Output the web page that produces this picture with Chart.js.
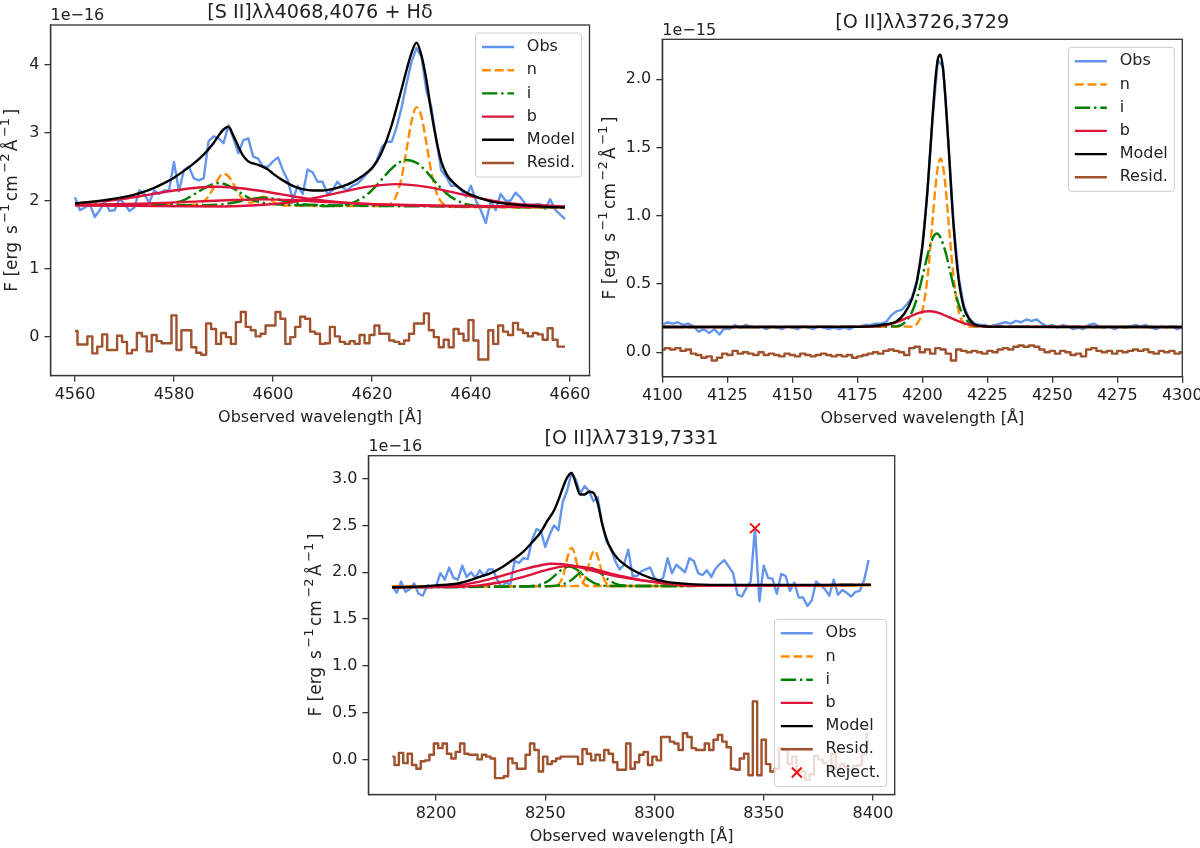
<!DOCTYPE html>
<html>
<head>
<meta charset="utf-8">
<script src="https://cdn.jsdelivr.net/npm/chart.js@4.4.1/dist/chart.umd.min.js"></script>
<style>
  html,body{margin:0;padding:0;background:#ffffff;}
  body{width:1200px;height:848px;position:relative;overflow:hidden;}
  canvas{position:absolute;left:0;top:0;width:1200px;height:848px;}
</style>
</head>
<body>
<canvas id="c1" width="1200" height="848"></canvas>
<canvas id="c2" width="1200" height="848"></canvas>
<canvas id="c3" width="1200" height="848"></canvas>
<script>
// ---------------- DATA ----------------
const p1Title = '[S II]λλ4068,4076 + Hδ';
const p2Title = '[O II]λλ3726,3729';
const p3Title = '[O II]λλ7319,7331';
const p1Offset = '1e\u221216';
const p2Offset = '1e\u221215';
const p3Offset = '1e\u221216';
const xLabel = 'Observed wavelength [Å]';
// y label pieces: [text, isSuperscript]
const yLabelParts = [['F [erg', 0], [' s', 0], ['\u22121', 1], ['cm', 0], ['\u22122', 1], ['Å', 0], ['\u22121', 1], [']', 0]];

const p1XTicks = [4560, 4580, 4600, 4620, 4640, 4660];
const p1YTicks = [0, 1, 2, 3, 4];
const p2XTicks = [4100, 4125, 4150, 4175, 4200, 4225, 4250, 4275, 4300];
const p2YTicks = [0, 0.5, 1, 1.5, 2];
const p3XTicks = [8200, 8250, 8300, 8350, 8400];
const p3YTicks = [0, 0.5, 1, 1.5, 2, 2.5, 3];

// Panel 1 (units 1e-16)
const p1Wave = [4560,4561,4562,4563,4564,4565,4566,4567,4568,4569,4570,4571,4572,4573,4574,4575,4576,4577,4578,4579,
4580,4581,4582,4583,4584,4585,4586,4587,4588,4589,4590,4591,4592,4593,4594,4595,4596,4597,4598,4599,
4600,4601,4602,4603,4604,4605,4606,4607,4608,4609,4610,4611,4612,4613,4614,4615,4616,4617,4618,4619,
4620,4621,4622,4623,4624,4625,4626,4627,4628,4629,4630,4631,4632,4633,4634,4635,4636,4637,4638,4639,
4640,4641,4642,4643,4644,4645,4646,4647,4648,4649,4650,4651,4652,4653,4654,4655,4656,4657,4658,4659];
const p1Obs = [2.05,1.86,1.90,1.95,1.76,1.86,1.99,1.85,1.86,2.03,
1.95,1.85,1.90,2.15,2.10,1.97,2.15,2.10,2.15,2.15,
2.57,2.14,2.45,2.50,2.33,2.30,2.33,2.88,2.95,2.92,
2.85,3.11,2.92,2.70,2.89,2.92,2.65,2.62,2.50,2.50,
2.58,2.64,2.45,2.30,2.02,2.22,2.10,2.46,2.42,2.28,
2.28,2.10,2.15,2.28,2.20,2.15,2.22,2.25,2.32,2.40,
2.48,2.60,2.79,2.87,2.87,3.09,3.38,3.73,4.05,4.25,
4.12,3.62,3.38,2.89,2.45,2.35,2.22,2.22,2.16,2.06,
2.22,2.00,1.86,1.67,2.00,1.86,2.10,2.00,2.00,2.12,
2.05,1.95,1.90,1.95,1.95,1.88,2.02,1.87,1.80,1.73];
const p1Resid = [0.08,-0.12,-0.12,0.00,-0.25,-0.15,0.03,-0.20,-0.20,0.01,
-0.08,-0.25,-0.20,0.05,0.00,-0.22,0.02,-0.07,-0.10,-0.10,
0.31,-0.20,0.09,0.09,-0.16,-0.24,-0.27,0.19,0.11,-0.11,
0.05,-0.01,-0.11,0.21,0.36,0.14,0.09,0.00,0.04,0.16,
0.16,0.36,0.26,-0.11,-0.01,0.14,0.29,0.26,0.07,0.04,
-0.11,-0.10,0.14,0.00,-0.08,-0.11,-0.07,-0.11,0.02,-0.10,
0.02,0.16,0.04,0.04,-0.06,-0.08,-0.11,-0.06,0.04,0.19,
0.19,0.34,0.09,-0.01,-0.16,-0.05,-0.16,0.11,0.04,-0.06,
0.24,-0.06,-0.34,-0.34,0.09,-0.11,0.16,0.07,0.02,0.20,
0.10,0.05,0.00,0.05,0.03,-0.05,0.12,-0.05,-0.15,-0.15];
const p1NX = [4560,4584,4585,4586,4587,4588,4589,4590,4591,4592,4593,4594,4595,4596,4597,4598,4599,4600,4601,4602,
4622,4623,4624,4625,4626,4627,4628,4629,4630,4631,4632,4633,4634,4635,4636,4659];
const p1NY = [1.94,1.94,1.96,1.99,2.07,2.19,2.33,2.40,2.36,2.25,2.11,2.02,1.97,1.98,2.03,2.06,2.04,1.99,1.95,1.93,
1.92,1.92,1.97,2.09,2.35,2.76,3.17,3.38,3.24,2.85,2.42,2.13,1.98,1.93,1.91,1.90];
const p1IaX = [4560,4576,4578,4580,4582,4584,4586,4588,4589,4590,4592,4594,4596,4598,4600,4603,4608,4612,4615,4617,
4619,4621,4623,4625,4627,4629,4631,4633,4635,4637,4639,4642,4645,4659];
const p1IaY = [1.94,1.94,1.95,1.97,2.01,2.09,2.18,2.25,2.26,2.25,2.18,2.09,2.01,1.97,1.95,1.94,1.93,1.92,1.945,2.00,
2.09,2.23,2.40,2.54,2.60,2.56,2.43,2.26,2.11,2.01,1.95,1.92,1.91,1.90];
const p1IbX = [4560,4586,4590,4593,4596,4598,4600,4603,4606,4610,4659];
const p1IbY = [1.935,1.935,1.95,1.985,2.03,2.045,2.03,1.985,1.95,1.935,1.91];
const p1B1X = [4560,4565,4570,4575,4580,4585,4588.5,4592,4597,4602,4607,4612,4617,4625,4635,4659];
const p1B1Y = [1.96,1.99,2.03,2.09,2.15,2.195,2.205,2.195,2.15,2.09,2.03,1.99,1.96,1.94,1.925,1.91];
const p1B2X = [4560,4575,4585,4592,4598,4604,4611,4620,4630,4659];
const p1B2Y = [1.94,1.96,1.99,2.01,2.02,2.01,1.98,1.95,1.925,1.905];
const p1B3X = [4560,4590,4598,4604,4609,4614,4619,4625,4631,4636,4641,4646,4652,4659];
const p1B3Y = [1.93,1.915,1.94,1.98,2.05,2.13,2.205,2.245,2.205,2.13,2.05,1.98,1.94,1.915];
const p1ModelX = [4560,4564,4568,4572,4575,4578,4580,4582,4584,4586,4588,4589,4590,4591,4592,4593,4594,4595,4596,4597,
4598,4599,4600,4602,4604,4606,4608,4610,4612,4614,4616,4618,4620,4621,4622,4623,4624,4625,4626,4627,
4628,4629,4630,4631,4632,4633,4634,4635,4636,4637,4639,4641,4644,4648,4653,4659];
const p1ModelY = [1.96,1.99,2.03,2.09,2.16,2.26,2.34,2.44,2.55,2.68,2.85,2.96,3.05,3.09,2.96,2.80,2.66,2.58,2.55,2.53,
2.50,2.46,2.40,2.30,2.22,2.17,2.15,2.15,2.17,2.21,2.27,2.36,2.48,2.58,2.72,2.90,3.12,3.38,3.65,3.93,
4.18,4.33,4.14,3.78,3.30,2.90,2.58,2.40,2.30,2.23,2.12,2.06,1.99,1.95,1.92,1.90];

// Panel 2 (units 1e-15)
const p2Wave = [4100,4102,4104,4106,4108,4110,4112,4114,4116,4118,4120,4122,4124,4126,4128,4130,4132,4134,4136,4138,
4140,4142,4144,4146,4148,4150,4152,4154,4156,4158,4160,4162,4164,4166,4168,4170,4172,4174,4176,4178,
4180,4182,4184,4186,4188,4190,4192,4194,4196,4198,4200,4202,4204,4206,4208,4210,4212,4214,4216,4218,
4220,4222,4224,4226,4228,4230,4232,4234,4236,4238,4240,4242,4244,4246,4248,4250,4252,4254,4256,4258,
4260,4262,4264,4266,4268,4270,4272,4274,4276,4278,4280,4282,4284,4286,4288,4290,4292,4294,4296,4298,4300];
const p2Obs = [0.20,0.22,0.21,0.22,0.20,0.21,0.19,0.15,0.17,0.14,
0.17,0.13,0.18,0.17,0.20,0.18,0.20,0.19,0.18,0.19,
0.17,0.19,0.18,0.17,0.19,0.18,0.17,0.19,0.18,0.17,
0.19,0.18,0.17,0.18,0.17,0.18,0.17,0.19,0.19,0.20,
0.20,0.21,0.21,0.22,0.27,0.30,0.31,0.35,0.40,0.53,
0.78,1.18,1.72,2.14,2.09,1.55,0.95,0.55,0.34,0.25,
0.21,0.20,0.20,0.19,0.20,0.21,0.22,0.21,0.23,0.22,
0.24,0.23,0.24,0.21,0.19,0.20,0.18,0.20,0.19,0.17,
0.18,0.17,0.20,0.21,0.19,0.18,0.19,0.17,0.19,0.18,
0.19,0.20,0.19,0.20,0.18,0.17,0.19,0.18,0.19,0.17,0.18];
const p2Resid = [0.02,0.03,0.02,0.03,0.01,0.02,-0.01,-0.02,-0.04,-0.03,
-0.06,-0.04,-0.01,-0.02,0.01,-0.01,0.00,-0.01,-0.02,0.00,
-0.02,-0.01,-0.02,-0.03,-0.01,-0.02,-0.03,-0.01,-0.02,-0.03,
-0.02,-0.01,-0.02,-0.03,-0.02,-0.03,-0.02,-0.04,-0.03,-0.02,
-0.01,0.00,-0.01,0.01,0.02,0.01,0.00,-0.02,0.03,0.04,
0.00,0.02,-0.01,0.03,0.02,-0.01,-0.06,0.02,0.01,0.00,
0.01,0.00,-0.01,0.01,0.00,0.02,0.03,0.02,0.04,0.05,
0.04,0.05,0.04,0.02,0.00,0.01,-0.01,0.01,0.00,-0.02,
-0.01,-0.03,0.02,0.03,0.01,0.00,0.01,-0.01,0.01,0.00,
0.01,0.02,0.01,0.02,0.00,-0.01,0.01,0.00,0.01,-0.01,0.00];
const p2ModelX = [4100,4170,4180,4186,4190,4193,4196,4198,4200,4202,4204,4205,4206,4207,4208,4209,4210,4212,4214,4216,4218,4220,4224,4230,4300];
const p2ModelY = [0.185,0.186,0.19,0.205,0.225,0.28,0.39,0.525,0.77,1.19,1.74,1.99,2.15,2.18,2.07,1.84,1.54,0.935,0.53,0.325,0.245,0.205,0.19,0.186,0.185];
const p2NX = [4100,4196,4198,4200,4202,4204,4205,4206,4207,4208,4209,4210,4212,4214,4216,4218,4300];
const p2NY = [0.185,0.188,0.21,0.30,0.55,0.98,1.20,1.36,1.42,1.36,1.20,0.98,0.55,0.30,0.21,0.188,0.185];
const p2IX = [4100,4190,4193,4196,4198,4200,4202,4204,4205.6,4207,4209,4211,4213,4215,4218,4221,4300];
const p2IY = [0.185,0.19,0.214,0.294,0.40,0.55,0.71,0.835,0.87,0.84,0.73,0.567,0.415,0.30,0.216,0.19,0.185];
const p2BX = [4100,4180,4185,4190,4195,4199,4202.5,4206,4210,4215,4220,4225,4300];
const p2BY = [0.185,0.187,0.195,0.219,0.259,0.29,0.30,0.29,0.259,0.219,0.195,0.187,0.185];

// Panel 3 (units 1e-16)
const p3Wave = [8180,8182,8184,8186,8188,8190,8192,8194,8196,8198,8200,8202,8204,8206,8208,8210,8212,8214,8216,8218,
8220,8222,8224,8226,8228,8230,8232,8234,8236,8238,8240,8242,8244,8246,8248,8250,8252,8254,8256,8258,
8260,8262,8264,8266,8268,8270,8272,8274,8276,8278,8280,8282,8284,8286,8288,8290,8292,8294,8296,8298,
8300,8302,8304,8306,8308,8310,8312,8314,8316,8318,8320,8322,8324,8326,8328,8330,8332,8334,8336,8338,
8340,8342,8344,8346,8348,8350,8352,8354,8356,8358,8360,8362,8364,8366,8368,8370,8372,8374,8376,8378,
8380,8382,8384,8386,8388,8390,8392,8394,8396,8398];
const p3Obs = [1.86,1.78,1.90,1.79,1.82,1.88,1.77,1.75,1.86,1.84,
1.85,1.99,1.92,2.05,1.94,1.92,2.07,1.95,2.00,1.94,
2.02,1.96,2.03,2.03,1.92,1.84,1.89,1.87,2.12,2.10,
2.15,2.14,2.35,2.46,2.44,2.27,2.40,2.50,2.45,2.75,
2.87,3.06,2.99,2.84,2.92,2.87,2.76,2.80,2.53,2.33,
2.26,2.12,2.03,2.08,2.24,1.96,1.96,2.01,2.03,2.05,
1.94,1.91,1.94,2.15,1.99,2.08,2.04,2.00,2.15,2.12,
1.99,1.97,2.02,1.95,2.04,2.09,2.13,2.06,1.99,1.76,
1.74,1.83,1.90,2.47,1.69,2.07,1.94,1.93,1.77,1.98,
1.96,1.80,1.89,1.73,1.73,1.64,1.70,1.90,1.86,1.82,
1.75,1.92,1.76,1.81,1.78,1.74,1.79,1.80,1.92,2.13];
const p3Resid = [0.03,-0.06,0.07,-0.04,0.06,-0.06,-0.10,-0.02,-0.01,0.05,
0.17,0.12,0.17,0.06,0.01,0.08,0.17,0.06,0.05,0.05,
0.00,0.05,0.03,0.01,-0.20,-0.20,-0.18,0.01,-0.04,-0.10,
-0.10,0.05,0.17,0.10,-0.13,0.03,-0.05,-0.02,0.01,0.03,
0.03,0.03,0.03,-0.05,0.11,0.06,-0.01,0.05,-0.01,0.10,
0.06,-0.03,-0.11,-0.11,0.17,-0.10,-0.03,0.05,0.08,-0.06,
0.03,-0.01,0.24,0.24,0.19,0.17,0.10,0.28,0.24,0.12,
0.10,0.10,0.17,0.10,0.21,0.26,0.19,0.13,-0.10,-0.11,
0.01,0.06,-0.17,0.62,-0.17,0.21,-0.05,-0.13,-0.10,0.12,
0.10,-0.05,0.03,-0.13,-0.13,-0.22,-0.16,0.04,0.00,-0.04,
-0.11,0.06,-0.10,-0.05,-0.08,-0.12,-0.07,-0.06,0.06,0.27];
const p3ModelX = [8180,8190,8200,8210,8215,8220,8225,8230,8235,8240,8244,8248,8251,8254,8256,8258,8260,8262,8263,8264,
8266,8268,8270,8272,8274,8276,8278,8280,8283,8287,8292,8298,8305,8315,8330,8399];
const p3ModelY = [1.84,1.845,1.86,1.88,1.91,1.95,1.99,2.05,2.13,2.22,2.32,2.43,2.55,2.66,2.77,2.90,3.01,3.06,3.02,2.95,
2.83,2.83,2.86,2.85,2.74,2.52,2.36,2.25,2.15,2.07,2.00,1.94,1.90,1.875,1.865,1.865];
const p3N1X = [8180,8254,8256,8258,8260,8261,8262,8263,8264,8266,8268,8270,8399];
const p3N1Y = [1.85,1.852,1.868,1.95,2.14,2.226,2.26,2.226,2.14,1.95,1.868,1.852,1.86];
const p3N2X = [8180,8264.5,8266.5,8268.5,8270.5,8271.5,8272.5,8273.5,8274.5,8276.5,8278.5,8280.5,8399];
const p3N2Y = [1.85,1.852,1.868,1.95,2.13,2.20,2.23,2.20,2.13,1.95,1.868,1.852,1.86];
const p3I1X = [8180,8240,8244,8248,8252,8255,8258,8261,8264,8267,8270,8274,8278,8282,8399];
const p3I1Y = [1.84,1.85,1.854,1.87,1.918,1.977,2.035,2.06,2.035,1.977,1.918,1.87,1.854,1.852,1.865];
const p3I2X = [8180,8250,8254,8258,8262,8265,8268,8270.5,8273,8276,8279,8283,8287,8291,8399];
const p3I2Y = [1.84,1.85,1.854,1.87,1.918,1.977,2.025,2.045,2.025,1.977,1.918,1.87,1.856,1.852,1.865];
const p3B1X = [8180,8200,8210,8220,8230,8240,8248,8253,8260,8268,8276,8284,8292,8300,8308,8318,8399];
const p3B1Y = [1.84,1.845,1.86,1.90,1.96,2.03,2.075,2.09,2.08,2.04,1.99,1.95,1.92,1.895,1.87,1.855,1.865];
const p3B2X = [8180,8210,8220,8230,8240,8250,8260,8266,8272,8280,8290,8300,8310,8320,8399];
const p3B2Y = [1.84,1.845,1.86,1.895,1.95,2.02,2.065,2.06,2.035,1.985,1.935,1.895,1.87,1.855,1.865];
const p3RejectX = [8346];
const p3RejectY = [2.47];

// ---------------- STYLE ----------------
const TEXT = '#222222';
const FRAME = '#333333';
const FONT = 'DejaVu Sans';
Chart.defaults.font.family = FONT;
Chart.defaults.font.size = 16;
Chart.defaults.color = TEXT;

const STY = {
  'Obs':    {color: '#6495ED', dash: [], order: 7},
  'n':      {color: '#FF8C00', dash: [8.9, 3.8], order: 6},
  'i':      {color: '#008000', dash: [15.4, 3.8, 2.4, 3.8], order: 5},
  'b':      {color: '#DC143C', dash: [], order: 4},
  'Model':  {color: '#000000', dash: [], order: 3},
  'Resid.': {color: '#A0522D', dash: [], order: 2}
};

function pts(xs, ys) { return xs.map((x, k) => ({x: x, y: ys[k]})); }

function line(label, xs, ys, mode) {
  const s = STY[label];
  const d = {
    label: label, data: pts(xs, ys),
    borderColor: s.color, backgroundColor: s.color,
    borderWidth: 2.4, borderDash: s.dash, order: s.order,
    pointRadius: 0, fill: false, tension: 0,
    borderJoinStyle: 'round', borderCapStyle: 'butt'
  };
  if (mode === 'smooth') d.cubicInterpolationMode = 'monotone';
  if (mode === 'step') d.stepped = 'middle';
  return d;
}
function reject(xs, ys) {
  return {
    label: 'Reject.', data: pts(xs, ys), showLine: false, order: 1,
    pointStyle: 'crossRot', pointRadius: 7, pointBorderColor: '#ff0000',
    pointBorderWidth: 1.8, borderColor: '#ff0000', backgroundColor: '#ff0000'
  };
}

function drawYLabel(ctx, cx, cy) {
  const mainF = '17px "' + FONT + '"', supF = '13px "' + FONT + '"';
  const target = 183, raise = 7;
  const widths = yLabelParts.map(p => { ctx.font = p[1] ? supF : mainF; return ctx.measureText(p[0]).width; });
  const natural = widths.reduce((s, w) => s + w, 0);
  const gap = Math.min(2.5, Math.max(0, (target - natural) / (yLabelParts.length - 1)));
  const total = natural + gap * (yLabelParts.length - 1);
  ctx.save();
  ctx.translate(cx, cy);
  ctx.rotate(-Math.PI / 2);
  ctx.fillStyle = TEXT; ctx.textAlign = 'left'; ctx.textBaseline = 'middle';
  let x = -total / 2;
  yLabelParts.forEach((p, k) => {
    ctx.font = p[1] ? supF : mainF;
    ctx.fillText(p[0], x, p[1] ? -raise : 0);
    x += widths[k] + gap;
  });
  ctx.restore();
}

const deco = {
  id: 'deco',
  afterDatasetsDraw(chart, args, o) {
    const ctx = chart.ctx, a = chart.chartArea;
    ctx.save();
    ctx.setLineDash([]);
    ctx.strokeStyle = FRAME; ctx.lineWidth = 1.3;
    ctx.strokeRect(a.left, a.top, a.right - a.left, a.bottom - a.top);

    // legend inside the axes
    const seen = new Set(), entries = [];
    chart.data.datasets.forEach(d => { if (!seen.has(d.label)) { seen.add(d.label); entries.push(d); } });
    ctx.font = '16px "' + FONT + '"';
    const pad = 6.4, hl = 32, htp = 12.8, rowH = 15.2, gap = 8;
    const tw = Math.max.apply(null, entries.map(e => ctx.measureText(e.label).width));
    const w = 2 * pad + hl + htp + tw;
    const h = 2 * pad + entries.length * rowH + (entries.length - 1) * gap;
    const right = a.right - 8;
    const top = o.legendPos === 'lr' ? a.bottom - 8 - h : a.top + 8;
    const left = right - w, r = 3;
    ctx.beginPath();
    ctx.moveTo(left + r, top);
    ctx.lineTo(right - r, top); ctx.arcTo(right, top, right, top + r, r);
    ctx.lineTo(right, top + h - r); ctx.arcTo(right, top + h, right - r, top + h, r);
    ctx.lineTo(left + r, top + h); ctx.arcTo(left, top + h, left, top + h - r, r);
    ctx.lineTo(left, top + r); ctx.arcTo(left, top, left + r, top, r);
    ctx.closePath();
    ctx.fillStyle = 'rgba(255,255,255,0.8)'; ctx.fill();
    ctx.strokeStyle = '#cccccc'; ctx.lineWidth = 1; ctx.stroke();
    entries.forEach((e, k) => {
      const cy = top + pad + rowH / 2 + k * (rowH + gap);
      const x0 = left + pad, x1 = x0 + hl;
      if (e.showLine === false) {
        const cx = (x0 + x1) / 2, m = 5;
        ctx.setLineDash([]);
        ctx.strokeStyle = e.pointBorderColor; ctx.lineWidth = 1.8;
        ctx.beginPath();
        ctx.moveTo(cx - m, cy - m); ctx.lineTo(cx + m, cy + m);
        ctx.moveTo(cx - m, cy + m); ctx.lineTo(cx + m, cy - m);
        ctx.stroke();
      } else {
        ctx.setLineDash(e.borderDash || []);
        ctx.strokeStyle = e.borderColor; ctx.lineWidth = e.borderWidth;
        ctx.beginPath(); ctx.moveTo(x0, cy); ctx.lineTo(x1, cy); ctx.stroke();
        ctx.setLineDash([]);
      }
      ctx.fillStyle = TEXT; ctx.textAlign = 'left'; ctx.textBaseline = 'middle';
      ctx.fillText(e.label, x1 + htp, cy);
    });

    // title, offset text and y label
    ctx.fillStyle = TEXT; ctx.textBaseline = 'middle';
    ctx.textAlign = 'center';
    ctx.font = '19.2px "' + FONT + '"';
    ctx.fillText(o.title, (a.left + a.right) / 2, a.top - o.titleOff);
    ctx.textAlign = 'left';
    ctx.font = '16px "' + FONT + '"';
    ctx.fillText(o.offset, a.left, a.top - 8.9);
    ctx.restore();
    drawYLabel(ctx, a.left - o.yLabelOff, (a.top + a.bottom) / 2);
  }
};

function makePanel(id, frame, wy, xr, yr, xt, yt, ydec, datasets, title, offset, legendPos, titleOff, yLabelOff) {
  const hx = 51.6;
  const tickFont = {family: FONT, size: 16};
  const grid = {display: true, drawOnChartArea: false, drawTicks: true, tickLength: 6, color: FRAME, lineWidth: 1.3};
  const border = {display: true, color: FRAME, width: 1.3};
  new Chart(document.getElementById(id), {
    type: 'line',
    data: {datasets: datasets},
    options: {
      responsive: false, animation: false, devicePixelRatio: 1, events: [],
      layout: {padding: {left: frame.left - wy, top: frame.top, right: 1200 - frame.right, bottom: 848 - frame.bottom - hx}},
      plugins: {legend: {display: false}, tooltip: {enabled: false},
                deco: {title: title, offset: offset, legendPos: legendPos, titleOff: titleOff, yLabelOff: yLabelOff}},
      scales: {
        x: {
          type: 'linear', min: xr[0], max: xr[1],
          grid: grid, border: border,
          ticks: {font: tickFont, color: TEXT, autoSkip: false, maxRotation: 0, padding: 4,
                  callback: v => v.toFixed(0)},
          title: {display: true, text: xLabel, font: {family: FONT, size: 16}, color: TEXT, padding: 0},
          afterBuildTicks: s => { s.ticks = xt.map(v => ({value: v})); },
          afterFit: s => { s.height = hx; s.paddingLeft = 0; s.paddingRight = 0; }
        },
        y: {
          type: 'linear', min: yr[0], max: yr[1],
          grid: grid, border: border,
          ticks: {font: tickFont, color: TEXT, autoSkip: false, padding: 5,
                  callback: v => v.toFixed(ydec)},
          title: {display: false},
          afterBuildTicks: s => { s.ticks = yt.map(v => ({value: v})); },
          afterFit: s => { s.width = wy; s.paddingTop = 0; s.paddingBottom = 0; }
        }
      }
    },
    plugins: [deco]
  });
}

makePanel('c1', {left: 50.5, right: 589.5, top: 25, bottom: 375.5}, 48.6,
  [4555.05, 4663.95], [-0.576, 4.59], p1XTicks, p1YTicks, 0, [
    line('Obs', p1Wave, p1Obs),
    line('n', p1NX, p1NY, 'smooth'),
    line('i', p1IaX, p1IaY, 'smooth'),
    line('i', p1IbX, p1IbY, 'smooth'),
    line('b', p1B1X, p1B1Y, 'smooth'),
    line('b', p1B2X, p1B2Y, 'smooth'),
    line('b', p1B3X, p1B3Y, 'smooth'),
    line('Model', p1ModelX, p1ModelY, 'smooth'),
    line('Resid.', p1Wave, p1Resid, 'step')
  ], p1Title, p1Offset, 'ur', 12, 37.5);

makePanel('c2', {left: 662.3, right: 1182.3, top: 39.3, bottom: 376.7}, 62.3,
  [4100, 4300], [-0.179, 2.293], p2XTicks, p2YTicks, 1, [
    line('Obs', p2Wave, p2Obs),
    line('n', p2NX, p2NY, 'smooth'),
    line('i', p2IX, p2IY, 'smooth'),
    line('b', p2BX, p2BY, 'smooth'),
    line('Model', p2ModelX, p2ModelY, 'smooth'),
    line('Resid.', p2Wave, p2Resid, 'step')
  ], p2Title, p2Offset, 'ur', 16.3, 51.3);

makePanel('c3', {left: 368.4, right: 894.7, top: 455.7, bottom: 794.5}, 62.6,
  [8169.05, 8409.95], [-0.375, 3.245], p3XTicks, p3YTicks, 1, [
    line('Obs', p3Wave, p3Obs),
    line('n', p3N1X, p3N1Y, 'smooth'),
    line('n', p3N2X, p3N2Y, 'smooth'),
    line('i', p3I1X, p3I1Y, 'smooth'),
    line('i', p3I2X, p3I2Y, 'smooth'),
    line('b', p3B1X, p3B1Y, 'smooth'),
    line('b', p3B2X, p3B2Y, 'smooth'),
    line('Model', p3ModelX, p3ModelY, 'smooth'),
    line('Resid.', p3Wave, p3Resid, 'step'),
    reject(p3RejectX, p3RejectY)
  ], p3Title, p3Offset, 'lr', 16.3, 51.6);
</script>
</body>
</html>
